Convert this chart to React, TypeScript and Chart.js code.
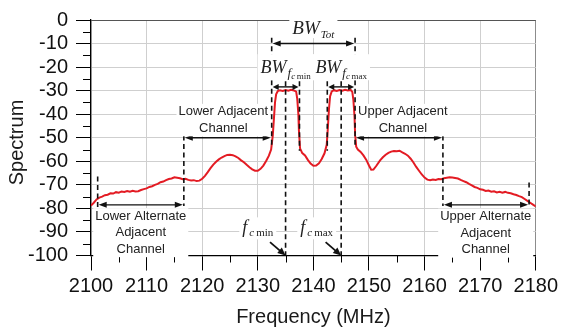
import React, { useEffect, useRef } from "react";
import { Chart, registerables } from "chart.js";

Chart.register(...registerables);

// Measured spectrum: frequency (MHz) and level (dB)
const freqMHz = [
  2100.0, 2100.5, 2101.0, 2101.5, 2102.0, 2102.5, 2103.0, 2103.5, 2104.0, 2104.5,
  2105.0, 2105.5, 2106.0, 2106.5, 2107.0, 2107.5, 2108.0, 2108.5, 2109.0, 2109.5,
  2110.0, 2110.5, 2111.0, 2111.5, 2112.0, 2112.5, 2113.0, 2113.5, 2114.0, 2114.5,
  2115.0, 2115.5, 2116.0, 2116.5, 2117.0, 2117.5, 2118.0, 2118.5, 2119.0, 2119.5,
  2120.0, 2120.5, 2121.0, 2121.5, 2122.0, 2122.5, 2123.0, 2123.5, 2124.0, 2124.5,
  2125.0, 2125.5, 2126.0, 2126.5, 2127.0, 2127.5, 2128.0, 2128.5, 2129.0, 2129.5,
  2130.0, 2130.5, 2131.0, 2131.5, 2132.0, 2132.4, 2132.7, 2132.9, 2133.1, 2133.3,
  2133.6, 2134.0, 2134.5, 2135.0, 2135.5, 2136.0, 2136.5, 2136.9, 2137.1, 2137.3,
  2137.4, 2137.6, 2138.0, 2138.5, 2139.0, 2139.5, 2140.0, 2140.5, 2141.0, 2141.5,
  2142.0, 2142.4, 2142.6, 2142.8, 2143.0, 2143.3, 2143.7, 2144.2, 2144.7, 2145.2,
  2145.7, 2146.2, 2146.7, 2147.0, 2147.2, 2147.4, 2147.5, 2147.7, 2148.0, 2148.5,
  2149.0, 2149.5, 2150.0, 2150.4, 2150.8, 2151.3, 2152.0, 2152.5, 2153.0, 2153.5,
  2154.0, 2154.5, 2155.0, 2155.5, 2156.0, 2156.5, 2157.0, 2157.5, 2158.0, 2158.5,
  2159.0, 2159.5, 2160.0, 2160.5, 2161.0, 2161.5, 2162.0, 2162.5, 2163.0, 2163.5,
  2164.0, 2164.5, 2165.0, 2165.5, 2166.0, 2166.5, 2167.0, 2167.5, 2168.0, 2168.5,
  2169.0, 2169.5, 2170.0, 2170.5, 2171.0, 2171.5, 2172.0, 2172.5, 2173.0, 2173.5,
  2174.0, 2174.5, 2175.0, 2175.5, 2176.0, 2176.5, 2177.0, 2177.5, 2178.0, 2178.5,
  2179.0, 2179.5, 2180.0,
];

const spectrumDb = [
  -78.8, -77.6, -76.2, -75.4, -75.0, -74.4, -74.2, -73.6, -73.7, -73.1,
  -73.3, -72.8, -73.0, -72.6, -72.9, -72.5, -72.8, -72.7, -72.2, -71.8,
  -71.5, -70.9, -70.6, -70.0, -69.6, -68.9, -68.6, -68.0, -67.5, -67.3,
  -66.8, -67.0, -67.2, -67.6, -67.4, -67.9, -68.1, -68.0, -68.4, -68.2,
  -67.4, -66.2, -64.6, -62.9, -61.4, -60.2, -59.2, -58.4, -57.8, -57.3,
  -57.2, -57.4, -57.9, -58.6, -59.6, -60.4, -61.5, -62.5, -63.4, -64.0,
  -64.0, -63.2, -61.8, -59.9, -57.6, -55.0, -49.0, -42.0, -35.0, -31.6,
  -30.2, -29.8, -30.1, -29.7, -30.0, -29.6, -29.9, -30.4, -33.5, -40.0,
  -47.0, -54.5, -56.5, -57.5, -59.4, -61.0, -61.9, -61.8, -60.9, -59.0,
  -56.6, -53.0, -46.0, -38.0, -32.5, -30.3, -29.8, -30.1, -29.7, -30.0,
  -29.6, -29.9, -29.7, -30.5, -34.0, -41.0, -48.0, -53.8, -55.0, -56.0,
  -57.5, -59.3, -61.8, -63.6, -63.5, -62.0, -59.6, -58.3, -57.2, -56.4,
  -55.9, -55.6, -55.7, -55.5, -56.2, -56.8, -57.6, -58.9, -60.5, -62.4,
  -64.0, -65.6, -66.9, -67.8, -68.0, -67.7, -67.9, -67.5, -67.6, -67.2,
  -67.0, -66.8, -66.9, -67.1, -67.3, -67.9, -68.4, -68.9, -69.6, -70.2,
  -70.9, -71.3, -71.9, -72.1, -72.6, -72.4, -72.9, -72.7, -73.2, -72.9,
  -73.3, -73.0, -73.4, -73.6, -74.0, -74.3, -74.8, -75.2, -76.0, -76.8,
  -77.6, -78.4, -79.2,
];

// Axis tick values
const freqTicks = [2100, 2110, 2120, 2130, 2140, 2150, 2160, 2170, 2180];
const dbTicks = [0, -10, -20, -30, -40, -50, -60, -70, -80, -90, -100];
const freqMinorTicks = [2105, 2115, 2125, 2135, 2145, 2155, 2165, 2175];
const dbMinorTicks = [-5, -15, -25, -35, -45, -55, -65, -75, -85, -95];

// Carrier frequencies and channel boundaries (MHz)
const fcMin = 2135;
const fcMax = 2145;
const carrierEdges = [2132.5, 2137.5, 2142.5, 2147.5];
const adjacentEdges = [2116.7, 2163.3];
const alternateEdges = [2101.2, 2178.8];

const SANS = '"Liberation Sans", Arial, sans-serif';
const SERIF = '"Liberation Serif", "Times New Roman", serif';

// Dashed boundary markers: frequency, top level, bottom level (dB)
const dashedMarkers = [
  { f: alternateEdges[0], top: -66.5, bottom: -79.5 },
  { f: adjacentEdges[0], top: -49, bottom: -79 },
  { f: carrierEdges[0], top: -7.5, bottom: -54.5 },
  { f: fcMin, top: -26, bottom: -100 },
  { f: carrierEdges[1], top: -26, bottom: -55.5 },
  { f: carrierEdges[2], top: -26, bottom: -55.5 },
  { f: fcMax, top: -26, bottom: -100 },
  { f: carrierEdges[3], top: -7.5, bottom: -54.5 },
  { f: adjacentEdges[1], top: -49, bottom: -79 },
  { f: alternateEdges[1], top: -69, bottom: -79.5 },
];

// Double-headed span arrows: from/to frequency at a level
const spanArrows = [
  { from: carrierEdges[0], to: carrierEdges[3], at: -10, head: 8 },
  { from: carrierEdges[0], to: carrierEdges[1], at: -28.4, head: 6 },
  { from: carrierEdges[2], to: carrierEdges[3], at: -28.4, head: 6 },
  { from: adjacentEdges[0], to: carrierEdges[0], at: -50, head: 8 },
  { from: carrierEdges[3], to: adjacentEdges[1], at: -50, head: 8 },
  { from: alternateEdges[0], to: adjacentEdges[0], at: -78.5, head: 8 },
  { from: adjacentEdges[1], to: alternateEdges[1], at: -78.5, head: 8 },
];

// Channel names: centre frequency, level of first line, lines
const channelLabels = [
  { f: 2123.8, at: -39.0, lines: ["Lower Adjacent", "Channel"] },
  { f: 2156.1, at: -39.0, lines: ["Upper Adjacent", "Channel"] },
  { f: 2108.95, at: -83.3, lines: ["Lower Alternate", "Adjacent", "Channel"] },
  { f: 2171.0, at: -83.5, lines: ["Upper Alternate", "Adjacent", "Channel"] },
];

type Part = { t: string; font: string; dy: number; gap?: number };

const bwTot: Part[] = [
  { t: "BW", font: `italic 19px ${SERIF}`, dy: 0 },
  { t: "Tot", font: `italic 11px ${SERIF}`, dy: 4, gap: 1 },
];
const bwSub = (m: string): Part[] => [
  { t: "BW", font: `italic 18px ${SERIF}`, dy: 0 },
  { t: "f", font: `italic 13px ${SERIF}`, dy: 4, gap: 1 },
  { t: "c", font: `italic 9px ${SERIF}`, dy: 6 },
  { t: m, font: `9px ${SERIF}`, dy: 6, gap: 1.5 },
];
const fcLabel = (m: string): Part[] => [
  { t: "f", font: `italic 18px ${SERIF}`, dy: 0 },
  { t: "c", font: `italic 11px ${SERIF}`, dy: 3, gap: 2 },
  { t: m, font: `11px ${SERIF}`, dy: 3, gap: 2 },
];

// Rich labels: parts, centre frequency, baseline level
const richLabels = [
  { parts: bwTot, f: 2140, at: -6.0, box: [24, 4] },
  { parts: bwSub("min"), f: fcMin, at: -22.6, box: [19, 7] },
  { parts: bwSub("max"), f: fcMax, at: -22.6, box: [19, 7] },
  { parts: fcLabel("min"), f: 2130.0, at: -90.6, box: [16, 6] },
  { parts: fcLabel("max"), f: 2140.6, at: -90.6, box: [16, 6] },
];

// Pointer arrows from the carrier labels to the axis
const pointerArrows = [
  { f0: 2132.2, y0: -94.3, f1: fcMin, y1: -100 },
  { f0: 2142.2, y0: -94.3, f1: fcMax, y1: -100 },
];

function arrowHead(ctx: CanvasRenderingContext2D, x: number, y: number, ang: number, len: number, half: number) {
  ctx.beginPath();
  ctx.moveTo(x, y);
  ctx.lineTo(x - len * Math.cos(ang) + half * Math.sin(ang), y - len * Math.sin(ang) - half * Math.cos(ang));
  ctx.lineTo(x - len * Math.cos(ang) - half * Math.sin(ang), y - len * Math.sin(ang) + half * Math.cos(ang));
  ctx.closePath();
  ctx.fill();
}

const overlayPlugin = {
  id: "spectrumOverlay",
  afterDatasetsDraw(chart: any) {
    const { ctx, chartArea, scales } = chart;
    const xs = scales.x;
    const ys = scales.y;
    const px = (v: number) => xs.getPixelForValue(v);
    const py = (v: number) => ys.getPixelForValue(v);
    ctx.save();

    // minor ticks
    ctx.strokeStyle = "#000";
    ctx.lineWidth = 1;
    ctx.beginPath();
    freqMinorTicks.forEach((f) => {
      const X = Math.round(px(f)) + 0.5;
      ctx.moveTo(X, chartArea.bottom);
      ctx.lineTo(X, chartArea.bottom + 7);
    });
    dbMinorTicks.forEach((d) => {
      const Y = Math.round(py(d)) + 0.5;
      ctx.moveTo(chartArea.left, Y);
      ctx.lineTo(chartArea.left - 8, Y);
    });
    ctx.stroke();

    // dashed markers
    ctx.strokeStyle = "#111";
    ctx.lineWidth = 1.6;
    ctx.setLineDash([5, 3.5]);
    dashedMarkers.forEach((m) => {
      const X = px(m.f);
      ctx.beginPath();
      ctx.moveTo(X, py(m.top));
      ctx.lineTo(X, py(m.bottom));
      ctx.stroke();
    });
    ctx.setLineDash([]);

    // span arrows
    ctx.fillStyle = "#111";
    ctx.lineWidth = 1.4;
    spanArrows.forEach((a) => {
      const x0 = px(a.from) + 1;
      const x1 = px(a.to) - 1;
      const Y = py(a.at);
      ctx.beginPath();
      ctx.moveTo(x0 + a.head - 1, Y);
      ctx.lineTo(x1 - a.head + 1, Y);
      ctx.stroke();
      arrowHead(ctx, x1, Y, 0, a.head, 3);
      arrowHead(ctx, x0, Y, Math.PI, a.head, 3);
    });

    // pointer arrows
    pointerArrows.forEach((p) => {
      const x0 = px(p.f0), y0 = py(p.y0), x1 = px(p.f1), y1 = py(p.y1);
      const ang = Math.atan2(y1 - y0, x1 - x0);
      ctx.lineWidth = 1.8;
      ctx.beginPath();
      ctx.moveTo(x0, y0);
      ctx.lineTo(x1 - 6 * Math.cos(ang), y1 - 6 * Math.sin(ang));
      ctx.stroke();
      arrowHead(ctx, x1, y1, ang, 8, 3.5);
    });

    // channel names on white boxes
    ctx.font = `13px ${SANS}`;
    ctx.textAlign = "center";
    ctx.textBaseline = "middle";
    channelLabels.forEach((l) => {
      const cx = px(l.f);
      const y0 = py(l.at);
      const lh = 16.5;
      const w = Math.max(...l.lines.map((s) => ctx.measureText(s).width));
      ctx.fillStyle = "#fff";
      ctx.fillRect(cx - w / 2 - 2, y0 - 8, w + 4, lh * (l.lines.length - 1) + 16);
      ctx.fillStyle = "#222";
      l.lines.forEach((s, i) => ctx.fillText(s, cx, y0 + i * lh));
    });

    // symbol labels with subscripts
    ctx.textAlign = "left";
    ctx.textBaseline = "alphabetic";
    richLabels.forEach((r) => {
      const widths = r.parts.map((p) => {
        ctx.font = p.font;
        return ctx.measureText(p.t).width + (p.gap || 0);
      });
      const total = widths.reduce((a, b) => a + b, 0);
      const cx = px(r.f);
      const base = py(r.at);
      ctx.fillStyle = "#fff";
      ctx.fillRect(cx - total / 2 - 3, base - r.box[0], total + 6, r.box[0] + r.box[1]);
      ctx.fillStyle = "#222";
      let x = cx - total / 2;
      r.parts.forEach((p, i) => {
        ctx.font = p.font;
        x += p.gap || 0;
        ctx.fillText(p.t, x, base + p.dy);
        x += widths[i] - (p.gap || 0);
      });
    });

    // axis titles
    ctx.fillStyle = "#1a1a1a";
    ctx.font = `20px ${SANS}`;
    ctx.textAlign = "center";
    ctx.textBaseline = "middle";
    ctx.fillText("Frequency (MHz)", (chartArea.left + chartArea.right) / 2, 317);
    ctx.save();
    ctx.translate(17, 142.5);
    ctx.rotate(-Math.PI / 2);
    ctx.fillText("Spectrum", 0, 0);
    ctx.restore();

    ctx.restore();
  },
};

export default function App() {
  const canvasRef = useRef<HTMLCanvasElement | null>(null);

  useEffect(() => {
    const canvas = canvasRef.current;
    if (!canvas) return;
    const points = freqMHz.map((f, i) => ({ x: f, y: spectrumDb[i] }));
    const tickFont = { family: SANS, size: 20 };
    const chart = new Chart(canvas, {
      type: "scatter",
      data: {
        datasets: [
          {
            data: points,
            showLine: true,
            borderColor: "#e31b23",
            borderWidth: 2,
            pointRadius: 0,
            tension: 0,
          },
        ],
      },
      options: {
        animation: false,
        responsive: false,
        maintainAspectRatio: false,
        layout: { padding: { top: 13.5, right: 22, left: 0, bottom: 0 } },
        plugins: { legend: { display: false }, tooltip: { enabled: false } },
        scales: {
          x: {
            type: "linear",
            min: 2100,
            max: 2180,
            afterBuildTicks: (s: any) => {
              s.ticks = freqTicks.map((v) => ({ value: v }));
            },
            afterFit: (s: any) => {
              s.height = 79.5;
            },
            ticks: {
              font: tickFont,
              color: "#111",
              padding: 4,
              maxRotation: 0,
              autoSkip: false,
              callback: (v: any) => String(v),
            },
            grid: {
              color: (c: any) => (c.tick && c.tick.value === 2180 ? "#8c8c8c" : "#cfcfcf"),
              tickColor: "#000",
              tickLength: 15,
            },
            border: { color: "#000", width: 1.3 },
          },
          y: {
            type: "linear",
            min: -100,
            max: 0,
            afterBuildTicks: (s: any) => {
              s.ticks = dbTicks.map((v) => ({ value: v }));
            },
            afterFit: (s: any) => {
              s.width = 91;
            },
            ticks: {
              font: tickFont,
              color: "#111",
              padding: 8,
              autoSkip: false,
              callback: (v: any) => String(v),
            },
            grid: {
              color: (c: any) => (c.tick && c.tick.value === 0 ? "#555" : "#cfcfcf"),
              tickColor: "#000",
              tickLength: 15,
            },
            border: { color: "#000", width: 1.3 },
          },
        },
      },
      plugins: [overlayPlugin],
    });
    return () => chart.destroy();
  }, []);

  return (
    <div style={{ position: "fixed", left: 0, top: 0, width: 562, height: 335, background: "#fff" }}>
      <canvas ref={canvasRef} width={562} height={335} style={{ display: "block" }} />
    </div>
  );
}
